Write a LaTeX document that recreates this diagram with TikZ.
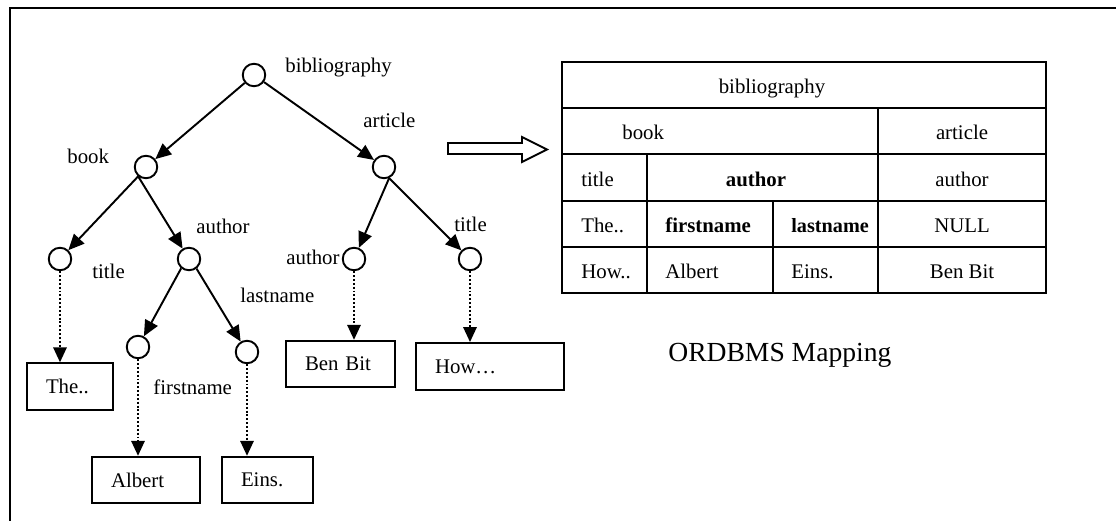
\documentclass[tikz,border=0pt]{standalone}
\usepackage{fontspec}
\setmainfont{Liberation Serif}
\usetikzlibrary{arrows.meta}
\begin{document}
\begin{tikzpicture}[x=0.02cm,y=-0.02cm,
  font=\fontsize{11.85}{14}\selectfont,
  elem/.style={circle,draw,line width=1.1pt,minimum size=0.45cm,inner sep=0pt},
  leaf/.style={draw,line width=1.1pt,inner ysep=0pt,inner xsep=0.38cm,
    minimum height=0.93cm,align=left},
  tag/.style={anchor=base west,inner sep=0pt},
  cell/.style={anchor=base west,inner sep=0pt},
  ccell/.style={anchor=base,inner sep=0pt},
  arr/.style={line width=1.1pt,-{Triangle[length=9pt,width=8pt]}},
  dotarr/.style={line width=1.1pt,dash pattern=on 1.1pt off 1.1pt,
    -{Triangle[length=8.5pt,width=7.6pt]}},
  grid/.style={line width=1.3pt}]
\useasboundingbox (0,0) rectangle (1116,521);

% frame
\draw[line width=1.2pt] (1116,8) -- (10,8) -- (10,521);

% element nodes of the XML tree
\node[elem] (root)    at (254,75)  {};
\node[elem] (book)    at (146,167) {};
\node[elem] (article) at (384,167) {};
\node[elem] (btitle)  at (60,259)  {};
\node[elem] (bauthor) at (189,259) {};
\node[elem] (aauthor) at (354,259) {};
\node[elem] (atitle)  at (470,259) {};
\node[elem] (first)   at (138,347) {};
\node[elem] (last)    at (247,352) {};

% element names
\node[tag] (lroot)    at (285,72)  {bibliography};
\node[tag] (larticle) at (363,127) {article};
\node[tag] (lbook)    at (67,163)  {book};
\node[tag] (lbauthor) at (196,233) {author};
\node[tag] (laauthor) at (286,264) {author};
\node[tag] (latitle)  at (454,231) {title};
\node[tag] (lbtitle)  at (92,278)  {title};
\node[tag] (llast)    at (240,302) {lastname};
\node[tag] (lfirst)   at (153,394) {firstname};

% text values
\node[leaf,text width=0.96cm] (vthe)    at (70,386.5)  {The..};
\node[leaf,text width=1.40cm] (valbert) at (146,480)   {Albert};
\node[leaf,text width=1.06cm] (veins)   at (267.5,480) {Eins.};
\node[leaf,text width=1.42cm] (vben)    at (340.5,364) {Ben Bit};
\node[leaf,text width=2.20cm,minimum height=0.94cm] (vhow) at (490,366.5) {How…};

% parent-child edges
\draw[arr] (root) -- (book);
\draw[arr] (root) -- (article);
\draw[arr] (book.230) -- (btitle);
\draw[arr] (book.230) -- (bauthor);
\draw[arr] (article.295) -- (aauthor);
\draw[arr] (article.295) -- (atitle);
\draw[arr] (bauthor.230) -- (first);
\draw[arr] (bauthor.308) -- (last);

% element-to-value edges
\draw[dotarr] (btitle)  -- (btitle |- vthe.north);
\draw[dotarr] (first)   -- (first |- valbert.north);
\draw[dotarr] (last)    -- (last |- veins.north);
\draw[dotarr] (aauthor) -- (aauthor |- vben.north);
\draw[dotarr] (atitle)  -- (atitle |- vhow.north);

% hollow mapping arrow
\draw[line width=1.1pt,fill=white] (448,143) -- (522,143) -- (522,137) -- (547,149.5)
  -- (522,162) -- (522,154) -- (448,154) -- cycle;

% relational table
\draw[grid] (562,62) rectangle (1046,293);
\foreach \y in {108,154,201,247} \draw[grid] (562,\y) -- (1046,\y);
\draw[grid] (878,108) -- (878,293);
\draw[grid] (647,154) -- (647,293);
\draw[grid] (773,201) -- (773,293);

\node[ccell] (tbib)     at (772,93)  {bibliography};
\node[cell]  (tbook)    at (622,139) {book};
\node[ccell] (tarticle) at (962,139) {article};
\node[cell]  (ttitle)   at (581,186) {title};
\node[ccell] (tauthor)  at (756,186) {\bfseries author};
\node[ccell] (taauthor) at (962,186) {author};
\node[cell]  (tthe)     at (581,232) {The..};
\node[cell]  (tfirst)   at (665,232) {\bfseries firstname};
\node[cell]  (tlast)    at (791,232) {\fontsize{11.5}{13}\selectfont\bfseries lastname};
\node[ccell] (tnull)    at (962,232) {NULL};
\node[cell]  (thow)     at (581,278) {How..};
\node[cell]  (talbert)  at (665,278) {Albert};
\node[cell]  (teins)    at (791,278) {Eins.};
\node[ccell] (tben)     at (962,278) {Ben Bit};

\node[tag,font=\fontsize{15.7}{18}\selectfont] (caption) at (668,361) {ORDBMS Mapping};
\end{tikzpicture}
\end{document}
